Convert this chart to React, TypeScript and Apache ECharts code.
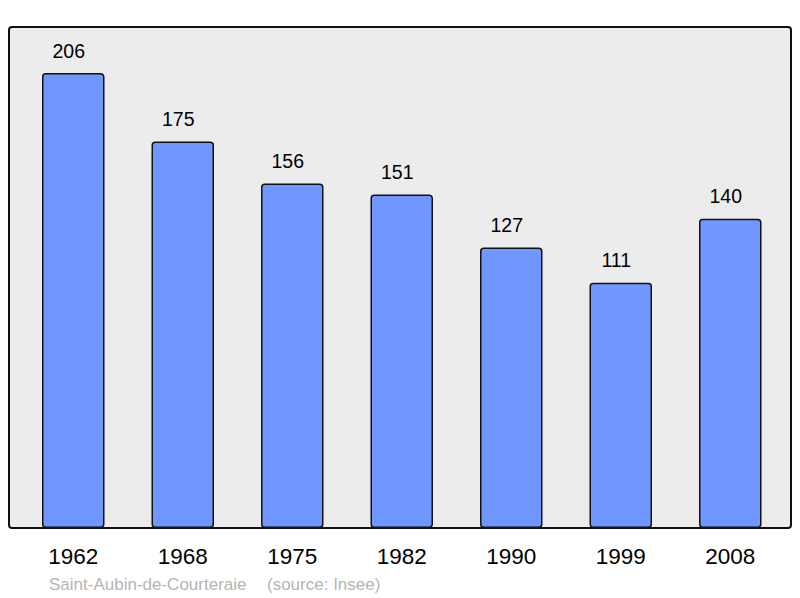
import { useEffect, useRef } from "react";
import * as echarts from "echarts";

const years = ["1962", "1968", "1975", "1982", "1990", "1999", "2008"];
const population = [206, 175, 156, 151, 127, 111, 140];
const yMax = 226.6;
const placeName = "Saint-Aubin-de-Courteraie";
const sourceNote = "(source: Insee)";

const font = "'Liberation Sans', Arial, sans-serif";

export default function App() {
  const ref = useRef<HTMLDivElement | null>(null);

  useEffect(() => {
    if (!ref.current) {
      return;
    }
    const instance = echarts.init(ref.current, null, { renderer: "svg" });
    instance.setOption({
      animation: false,
      textStyle: { fontFamily: font },
      grid: { left: 18.5, right: 15, top: 27.5, bottom: 70 },
      graphic: [
        {
          type: "rect",
          z: 0,
          shape: { x: 9, y: 27, width: 782, height: 501, r: 3 },
          style: { fill: "#ececec", stroke: "#111111", lineWidth: 2 }
        },
        {
          type: "text",
          x: 49,
          y: 584,
          style: {
            text: placeName,
            fill: "#b5b5b5",
            fontSize: 17,
            fontFamily: font,
            verticalAlign: "middle"
          }
        },
        {
          type: "text",
          x: 267,
          y: 584,
          style: {
            text: sourceNote,
            fill: "#b5b5b5",
            fontSize: 17,
            fontFamily: font,
            verticalAlign: "middle"
          }
        }
      ],
      xAxis: {
        type: "category",
        data: years,
        axisLine: { show: false },
        axisTick: { show: false },
        axisLabel: {
          color: "#000000",
          fontSize: 22.5,
          lineHeight: 22,
          margin: 17,
          fontFamily: font
        }
      },
      yAxis: {
        type: "value",
        min: 0,
        max: yMax,
        show: false,
        splitLine: { show: false }
      },
      series: [
        {
          type: "bar",
          data: population,
          barWidth: 62.5,
          z: 2,
          itemStyle: {
            color: "#7096ff",
            borderColor: "#111111",
            borderWidth: 1.5,
            borderRadius: 3
          },
          label: {
            show: true,
            position: "top",
            distance: 13,
            offset: [-4.5, 0],
            color: "#000000",
            fontSize: 19.5,
            lineHeight: 19,
            fontFamily: font
          }
        }
      ]
    });
    return () => {
      instance.dispose();
    };
  }, []);

  return (
    <div
      ref={ref}
      style={{ position: "fixed", left: 0, top: 0, width: 800, height: 598, background: "#ffffff" }}
    />
  );
}
